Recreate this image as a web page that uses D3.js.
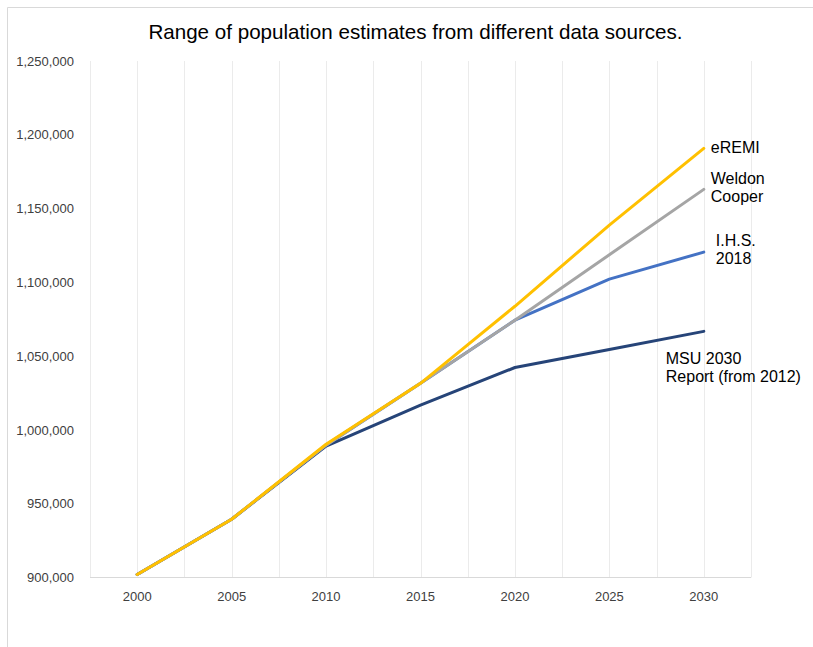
<!DOCTYPE html>
<html>
<head>
<meta charset="utf-8">
<script src="https://cdn.jsdelivr.net/npm/d3@7/dist/d3.min.js"></script>
<style>
  html, body { margin: 0; padding: 0; background: #fff; }
  svg { display: block; font-family: "Liberation Sans", Arial, sans-serif; }
</style>
</head>
<body>
<svg id="chart" width="813" height="647"></svg>
<script>
// Years on the category axis
const years = ["2000", "2005", "2010", "2015", "2020", "2025", "2030"];

// Population projections by source
const msu     = [902000, 939500, 989000, 1016800, 1042300, 1054500, 1066800];
const ihs     = [902000, 939500, 989700, 1031600, 1074400, 1102200, 1120500];
const weldon  = [902000, 939500, 989700, 1031600, 1074400, 1118700, 1163000];
const eremi   = [902000, 939500, 990300, 1031600, 1083800, 1138800, 1190800];

// Value axis ticks
const yTicks = [900000, 950000, 1000000, 1050000, 1100000, 1150000, 1200000, 1250000];

const titleText = "Range of population estimates from different data sources.";

// Drawn in this order so later series sit on top
const series = [
  { name: ["MSU 2030", "Report (from 2012)"], values: msu,    color: "#264478", dx: -38, dy: 33 },
  { name: ["I.H.S.", "2018"],                 values: ihs,    color: "#4472C4", dx: 12,  dy: -6 },
  { name: ["Weldon", "Cooper"],               values: weldon, color: "#A5A5A5", dx: 7,   dy: -5 },
  { name: ["eREMI"],                          values: eremi,  color: "#FFC000", dx: 7,   dy: 5 }
];

const svg = d3.select("#chart");

// Outer frame
svg.append("path")
  .attr("d", "M7.5,647 L7.5,7.5 L813,7.5")
  .attr("fill", "none")
  .attr("stroke", "#d9d9d9")
  .attr("stroke-width", 1);

// Title
svg.append("text")
  .attr("x", 415.5)
  .attr("y", 39)
  .attr("text-anchor", "middle")
  .attr("font-size", 20.6)
  .attr("fill", "#000")
  .text(titleText);

const plot = { left: 90, right: 751, top: 61, bottom: 577.5 };

const x = d3.scaleBand().domain(years).range([plot.left, plot.right]).padding(0);
const cx = d => x(d) + x.bandwidth() / 2;
const y = d3.scaleLinear().domain([900000, 1250000]).range([plot.bottom, plot.top]);

// Vertical gridlines at each category boundary and centre
const gridX = [];
years.forEach(d => { gridX.push(x(d)); gridX.push(cx(d)); });
gridX.push(plot.right);
svg.append("g").selectAll("line")
  .data(gridX)
  .join("line")
  .attr("x1", d => Math.round(d) + 0.5)
  .attr("x2", d => Math.round(d) + 0.5)
  .attr("y1", plot.top)
  .attr("y2", plot.bottom)
  .attr("stroke", "#ebebeb")
  .attr("stroke-width", 1);

// Y axis labels
const yAxis = d3.axisLeft(y)
  .tickValues(yTicks)
  .tickSize(0)
  .tickPadding(0)
  .tickFormat(d3.format(","));
const gy = svg.append("g").attr("transform", "translate(74,0)").call(yAxis);
gy.select(".domain").remove();
gy.selectAll("text")
  .attr("font-size", 13)
  .attr("font-family", "Liberation Sans, Arial, sans-serif")
  .attr("fill", "#404040");

// X axis
const xAxis = d3.axisBottom(x).tickSize(0).tickPadding(0);
const gx = svg.append("g").attr("transform", `translate(0,${plot.bottom})`).call(xAxis);
gx.select(".domain").remove();
gx.selectAll("text")
  .attr("y", 14)
  .attr("font-size", 13)
  .attr("font-family", "Liberation Sans, Arial, sans-serif")
  .attr("fill", "#404040");
svg.append("line")
  .attr("x1", plot.left).attr("x2", plot.right)
  .attr("y1", plot.bottom).attr("y2", plot.bottom)
  .attr("stroke", "#d9d9d9")
  .attr("stroke-width", 1.2);

// Lines
const line = d3.line()
  .x((v, i) => cx(years[i]))
  .y(v => y(v));

svg.append("g").selectAll("path")
  .data(series)
  .join("path")
  .attr("d", s => line(s.values))
  .attr("fill", "none")
  .attr("stroke", s => s.color)
  .attr("stroke-width", 3)
  .attr("stroke-linejoin", "round")
  .attr("stroke-linecap", "round");

// Series labels next to their 2030 values
const last = years.length - 1;
series.forEach(s => {
  const t = svg.append("text")
    .attr("font-size", 16)
    .attr("fill", "#000")
    .attr("x", cx(years[last]) + s.dx)
    .attr("y", y(s.values[last]) + s.dy);
  s.name.forEach((ln, i) => {
    t.append("tspan")
      .attr("x", cx(years[last]) + s.dx)
      .attr("dy", i === 0 ? 0 : 18)
      .text(ln);
  });
});
</script>
</body>
</html>
